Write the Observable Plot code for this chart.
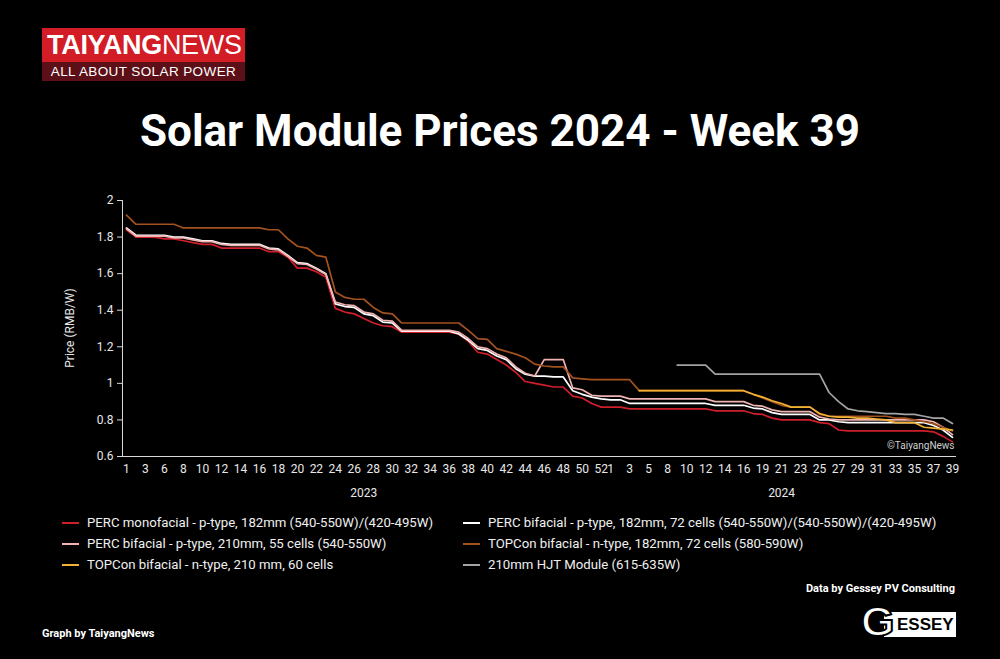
<!DOCTYPE html>
<html><head><meta charset="utf-8">
<script src="https://cdn.jsdelivr.net/npm/d3@7"></script>
<script src="https://cdn.jsdelivr.net/npm/@observablehq/plot@0.6"></script>
<style>
body{margin:0;background:#000;}
#page{position:relative;width:1000px;height:659px;background:#000;overflow:hidden;font-family:Roboto,sans-serif;color:#fff;}
.abs{position:absolute;}
#logoTop{left:42px;top:28px;width:203px;height:34px;background:#d21c26;}
#logoTop span{position:absolute;left:5px;top:1px;font-family:"Liberation Sans",Arial,sans-serif;font-size:27px;letter-spacing:-0.3px;line-height:32px;white-space:nowrap;}
#logoBot{left:42px;top:62px;width:203px;height:19px;background:#5c0f16;font-family:"Liberation Sans",Arial,sans-serif;font-size:13.5px;line-height:19px;text-align:center;letter-spacing:0.4px;white-space:nowrap;}
#title{left:0;top:106px;width:1000px;text-align:center;font-size:44px;font-weight:700;line-height:50px;white-space:nowrap;}
#chart{left:0;top:180px;}
#ylab{left:70px;top:328px;transform:translate(-50%,-50%) rotate(-90deg);font-size:12px;color:#e8e8e8;white-space:nowrap;}
.leg{position:absolute;font-size:13.2px;color:#f0f0f0;white-space:nowrap;line-height:16px;}
.sw{display:inline-block;width:17px;height:2px;vertical-align:middle;margin-right:8px;position:relative;top:-1px;}
#data{right:45px;top:582px;font-size:11px;font-weight:700;}
#graph{left:42px;top:627px;font-size:11px;font-weight:700;}
#gbox{left:884px;top:612px;width:72px;height:25px;background:#fff;}
#gtext{left:897px;top:612px;color:#000;font-family:"Liberation Sans",Arial,sans-serif;font-weight:700;font-size:17px;line-height:26px;white-space:nowrap;}
#gG{left:861px;top:598px;font-family:"Liberation Sans",Arial,sans-serif;font-weight:700;font-size:43px;line-height:46px;color:#fff;-webkit-text-stroke:2px #000;}
</style></head>
<body><div id="page">
<div id="logoTop" class="abs"><span><b>TAIYANG</b>NEWS</span></div>
<div id="logoBot" class="abs">ALL ABOUT SOLAR POWER</div>
<div id="title" class="abs">Solar Module Prices 2024 - Week 39</div>
<div id="chart" class="abs"></div>
<div id="ylab" class="abs">Price (RMB/W)</div>
<div id="legend"></div>
<div id="data" class="abs">Data by Gessey PV Consulting</div>
<div id="graph" class="abs">Graph by TaiyangNews</div>
<div id="gbox" class="abs"></div>
<div id="gG" class="abs">G</div>
<div id="gtext" class="abs">ESSEY</div>
</div>
<script>
const weeks2023 = [1,2,3,4,6,7,8,9,10,11,12,13,14,15,16,17,18,19,20,21,22,23,24,25,26,27,28,29,30,31,32,33,34,35,36,37,38,39,40,41,42,43,44,45,46,47,48,49,50,51,52];
const weeks2024 = [1,2,3,4,5,7,8,9,10,11,12,13,14,15,16,18,19,20,21,22,23,24,25,26,27,28,29,30,31,32,33,34,35,36,37,38,39];
const tickWeeks2023 = [1,3,6,8,10,12,14,16,18,20,22,24,26,28,30,32,34,36,38,40,42,44,46,48,50,52];
const tickWeeks2024 = [1,3,5,8,10,12,14,16,19,21,23,25,27,29,31,33,35,37,39];
const years = ["2023","2024"];
const yTicks = [0.6,0.8,1,1.2,1.4,1.6,1.8,2];

const seriesNames = [
 "PERC monofacial - p-type, 182mm (540-550W)/(420-495W)",
 "PERC bifacial - p-type, 182mm, 72 cells (540-550W)/(540-550W)/(420-495W)",
 "PERC bifacial - p-type, 210mm, 55 cells (540-550W)",
 "TOPCon bifacial - n-type, 182mm, 72 cells (580-590W)",
 "TOPCon bifacial - n-type, 210 mm, 60 cells",
 "210mm HJT  Module (615-635W)"
];
const seriesColors = ["#cf1f2b","#ffffff","#efb4b2","#a3521f","#f2b233","#a3a3a3"];

const percMono = [
1.84,1.80,1.80,1.80,1.79,1.79,1.78,1.77,1.76,1.76,
1.74,1.74,1.74,1.74,1.74,1.72,1.72,1.69,1.63,1.63,
1.61,1.58,1.41,1.39,1.38,1.355,1.33,1.315,1.31,1.28,
1.28,1.28,1.28,1.28,1.28,1.27,1.23,1.17,1.16,1.13,
1.10,1.06,1.01,1.00,0.99,0.98,0.98,0.93,0.92,0.89,
0.87,0.87,0.87,0.86,0.86,0.86,0.86,0.86,0.86,0.86,
0.86,0.86,0.85,0.85,0.85,0.85,0.835,0.83,0.81,0.80,
0.80,0.80,0.80,0.785,0.78,0.745,0.74,0.74,0.74,0.74,
0.74,0.74,0.74,0.74,0.74,0.735,0.71,0.68];
const percBi182 = [
1.85,1.81,1.81,1.81,1.81,1.80,1.80,1.79,1.78,1.78,
1.765,1.76,1.76,1.76,1.76,1.74,1.735,1.70,1.66,1.655,
1.63,1.60,1.435,1.42,1.415,1.38,1.37,1.335,1.33,1.285,
1.285,1.285,1.285,1.285,1.285,1.27,1.235,1.19,1.18,1.15,
1.13,1.08,1.05,1.04,1.04,1.035,1.035,0.96,0.94,0.925,
0.915,0.91,0.91,0.89,0.89,0.89,0.89,0.89,0.89,0.89,
0.89,0.89,0.88,0.88,0.88,0.88,0.865,0.86,0.84,0.83,
0.83,0.83,0.83,0.80,0.80,0.79,0.785,0.785,0.785,0.785,
0.785,0.785,0.785,0.785,0.785,0.77,0.745,0.705];
const percBi210 = [
1.845,1.805,1.805,1.805,1.805,1.795,1.795,1.785,1.775,1.775,
1.76,1.755,1.755,1.755,1.755,1.735,1.73,1.695,1.655,1.65,
1.625,1.595,1.445,1.43,1.425,1.39,1.38,1.345,1.34,1.29,
1.29,1.29,1.29,1.29,1.29,1.28,1.245,1.20,1.19,1.16,
1.14,1.09,1.055,1.04,1.13,1.13,1.13,0.975,0.965,0.935,
0.93,0.93,0.93,0.915,0.915,0.915,0.915,0.915,0.915,0.915,
0.915,0.915,0.90,0.90,0.90,0.90,0.88,0.875,0.855,0.845,
0.845,0.845,0.845,0.815,0.805,0.80,0.80,0.80,0.80,0.80,
0.80,0.80,0.80,0.80,0.80,0.79,0.76,0.72];
const topcon182 = [
1.92,1.87,1.87,1.87,1.87,1.87,1.85,1.85,1.85,1.85,
1.85,1.85,1.85,1.85,1.85,1.84,1.84,1.79,1.75,1.74,
1.70,1.69,1.50,1.47,1.46,1.46,1.415,1.385,1.38,1.33,
1.33,1.33,1.33,1.33,1.33,1.33,1.29,1.245,1.24,1.19,
1.175,1.16,1.14,1.105,1.095,1.09,1.09,1.03,1.025,1.02,
1.02,1.02,1.02,1.02,0.96,0.96,0.96,0.96,0.96,0.96,
0.96,0.96,0.96,0.96,0.96,0.96,0.94,0.92,0.90,0.88,
0.87,0.87,0.87,0.83,0.82,0.82,0.82,0.82,0.82,0.82,
0.82,0.81,0.81,0.80,0.79,0.78,0.76,0.74];
const topcon210 = [
null,null,null,null,null,null,null,null,null,null,
null,null,null,null,null,null,null,null,null,null,
null,null,null,null,null,null,null,null,null,null,
null,null,null,null,null,null,null,null,null,null,
null,null,null,null,null,null,null,null,null,null,
null,null,null,null,0.96,0.96,0.96,0.96,0.96,0.96,
0.96,0.96,0.96,0.96,0.96,0.96,0.94,0.925,0.905,0.89,
0.87,0.87,0.87,0.835,0.82,0.815,0.815,0.81,0.81,0.805,
0.80,0.785,0.785,0.785,0.76,0.755,0.75,0.745];
const hjt210 = [
null,null,null,null,null,null,null,null,null,null,
null,null,null,null,null,null,null,null,null,null,
null,null,null,null,null,null,null,null,null,null,
null,null,null,null,null,null,null,null,null,null,
null,null,null,null,null,null,null,null,null,null,
null,null,null,null,null,null,null,null,1.10,1.10,
1.10,1.10,1.05,1.05,1.05,1.05,1.05,1.05,1.05,1.05,
1.05,1.05,1.05,1.05,0.95,0.90,0.86,0.85,0.845,0.84,
0.835,0.835,0.83,0.83,0.82,0.81,0.81,0.78];
const seriesValues = [percMono, percBi182, percBi210, topcon182, topcon210, hjt210];

const categories = [...weeks2023.map(w => "2023-" + w), ...weeks2024.map(w => "2024-" + w)];
const tickKeys = [...tickWeeks2023.map(w => "2023-" + w), ...tickWeeks2024.map(w => "2024-" + w)];
const yearLabels = [
  {year: years[0], cat: "2023-" + weeks2023[Math.floor(weeks2023.length / 2)]},
  {year: years[1], cat: "2024-" + weeks2024[Math.floor(weeks2024.length / 2)]}
];
const rows = [];
seriesValues.forEach((vals, s) => vals.forEach((v, i) => {
  if (v != null) rows.push({series: seriesNames[s], cat: categories[i], value: v});
}));

const chart = Plot.plot({
  width: 1000, height: 340,
  marginLeft: 122, marginRight: 44, marginTop: 20, marginBottom: 64,
  style: {background: "transparent", color: "#e8e8e8", fontFamily: "Roboto, sans-serif", fontSize: "12px", overflow: "visible"},
  x: {type: "point", domain: categories, padding: 0.42},
  y: {domain: [0.6, 2]},
  color: {domain: seriesNames, range: seriesColors},
  marks: [
    Plot.ruleY([0.6], {stroke: "#d9d9d9", strokeWidth: 1}),
    Plot.ruleX([categories[0]], {dx: -4, stroke: "#d9d9d9", strokeWidth: 1}),
    Plot.axisY({ticks: yTicks, tickSize: 5, tickPadding: 4, tickFormat: d => String(d), label: null, stroke: "#d9d9d9", fill: "#e8e8e8"}),
    Plot.axisX({ticks: tickKeys, tickSize: 0, tickPadding: 8, tickFormat: k => k.split("-")[1], label: null, fill: "#e8e8e8"}),
    Plot.line(rows, {x: "cat", y: "value", z: "series", stroke: "series", strokeWidth: 1.7}),
    Plot.text(yearLabels, {x: "cat", text: "year", frameAnchor: "bottom", dy: 40, fill: "#e8e8e8", fontSize: 12}),
    Plot.text(["©TaiyangNews"], {frameAnchor: "bottom-right", dx: -2, dy: -8, fill: "#cfcfcf", fontSize: 10})
  ]
});
document.getElementById("chart").appendChild(chart);

// legend
const legPos = [
  {left: 62, top: 515}, {left: 463, top: 515},
  {left: 62, top: 536}, {left: 463, top: 536},
  {left: 62, top: 557}, {left: 463, top: 557}
];
const legOrder = [0, 1, 2, 3, 4, 5];
const legend = document.getElementById("legend");
legOrder.forEach((s, k) => {
  const d = document.createElement("div");
  d.className = "leg";
  d.style.left = legPos[k].left + "px";
  d.style.top = legPos[k].top + "px";
  d.innerHTML = `<span class="sw" style="background:${seriesColors[s]}"></span>` + seriesNames[s];
  legend.appendChild(d);
});
</script>
</body></html>
